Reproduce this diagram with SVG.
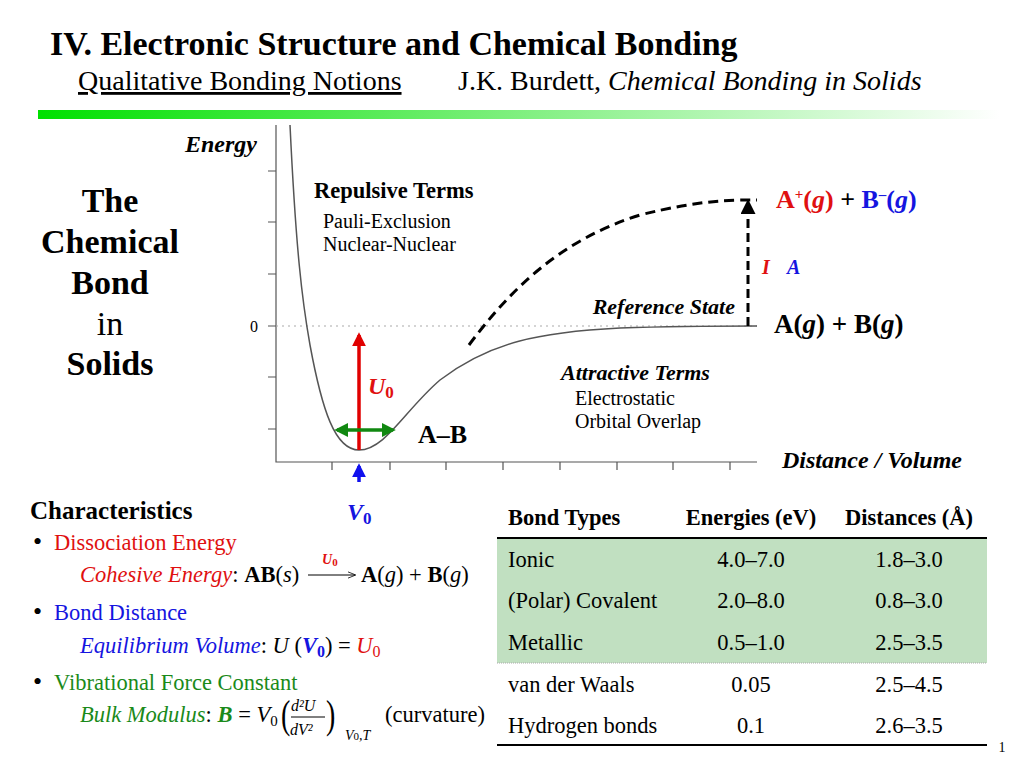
<svg xmlns="http://www.w3.org/2000/svg" width="1024" height="768" viewBox="0 0 1024 768">
<defs>
<linearGradient id="g" x1="0" x2="1"><stop offset="0" stop-color="#00e000"/><stop offset="1" stop-color="#ffffff"/></linearGradient>
<marker id="ar" viewBox="0 0 10 10" refX="8" refY="5" markerWidth="4" markerHeight="4" orient="auto-start-reverse"><path d="M0,0L10,5L0,10z" fill="#e00000"/></marker>
<marker id="ag" viewBox="0 0 10 10" refX="8" refY="5" markerWidth="4" markerHeight="4" orient="auto-start-reverse"><path d="M0,0L10,5L0,10z" fill="#118811"/></marker>
<marker id="ab" viewBox="0 0 10 10" refX="8" refY="5" markerWidth="4" markerHeight="4" orient="auto-start-reverse"><path d="M0,0L10,5L0,10z" fill="#1111ee"/></marker>
<marker id="ak" viewBox="0 0 10 10" refX="8" refY="5" markerWidth="5" markerHeight="5" orient="auto-start-reverse"><path d="M0,0L10,5L0,10z" fill="#000"/></marker>
<marker id="ak2" viewBox="0 0 10 10" refX="9" refY="5" markerWidth="8" markerHeight="8" markerUnits="userSpaceOnUse" orient="auto"><path d="M0,1L10,5L0,9" fill="none" stroke="#000"/></marker>
</defs>
<style>
text{font-family:"Liberation Serif","Times New Roman",serif;fill:#000}
.b{font-weight:bold}.i{font-style:italic}
.r{fill:#e01010}.bl{fill:#1515e0}.gr{fill:#1a8a1a}
.t{font-size:22.5px}
</style>
<rect width="1024" height="768" fill="#fff"/>
<g id="header">
<text x="50" y="55" class="b" font-size="34">IV. Electronic Structure and Chemical Bonding</text>
<text x="78" y="90" font-size="28" text-decoration="underline">Qualitative Bonding Notions</text>
<text x="458" y="90" font-size="28">J.K. Burdett, <tspan class="i">Chemical Bonding in Solids</tspan></text>
<rect x="38" y="110" width="962" height="9" fill="url(#g)"/>
</g>
<g id="title">
<text x="110" y="212" class="b" font-size="34" text-anchor="middle">The</text>
<text x="110" y="253" class="b" font-size="34" text-anchor="middle">Chemical</text>
<text x="110" y="294" class="b" font-size="34" text-anchor="middle">Bond</text>
<text x="110" y="335" font-size="34" text-anchor="middle">in</text>
<text x="110" y="375" class="b" font-size="34" text-anchor="middle">Solids</text>
</g>
<g id="axes" stroke="#555" fill="none" stroke-width="1.2">
<path d="M276,125V462H757"/>
<path d="M268,171H276M268,222H276M268,274H276M268,326H276M268,377H276M268,429H276"/>
<path d="M332,462V470M390,462V470M446,462V470M503,462V470M560,462V470M617,462V470M673,462V470M730,462V470"/>
<path d="M276,326H757" stroke="#aaa" stroke-dasharray="2,4"/>
</g>
<text x="258" y="332" font-size="16" fill="#444" text-anchor="end">0</text>
<text x="257" y="152" class="b i" font-size="24" text-anchor="end">Energy</text>
<text x="962" y="468" class="b i" font-size="24" text-anchor="end">Distance / Volume</text>
<g id="curves" fill="none">
<path d="M290,125C296,250 302,300 310,345C322,410 335,450 359,450C385,450 405,410 440,380C490,342 540,332 620,328C680,326 720,326 757,326" stroke="#555" stroke-width="1.5"/>
<path d="M469,345C510,290 560,240 640,215C700,200 730,200 757,200" stroke="#000" stroke-width="3" stroke-dasharray="10,6"/>
<path d="M748,326V202" stroke="#000" stroke-width="3" stroke-dasharray="9,5" marker-end="url(#ak)"/>
<path d="M359,450V335" stroke="#e00000" stroke-width="3.5" marker-end="url(#ar)"/>
<path d="M337,430H393" stroke="#118811" stroke-width="3.5" marker-start="url(#ag)" marker-end="url(#ag)"/>
<path d="M359,482V466" stroke="#1111ee" stroke-width="3.5" marker-end="url(#ab)"/>
</g>
<g id="labels">
<text x="314" y="198" class="b" font-size="22.5">Repulsive Terms</text>
<text x="323" y="228" font-size="20">Pauli-Exclusion</text>
<text x="323" y="251" font-size="20">Nuclear-Nuclear</text>
<text x="735" y="314" class="b i" font-size="22" text-anchor="end">Reference State</text>
<text x="561" y="380" class="b i" font-size="22">Attractive Terms</text>
<text x="575" y="405" font-size="20">Electrostatic</text>
<text x="575" y="428" font-size="20">Orbital Overlap</text>
<text x="418" y="443" class="b" font-size="26">A–B</text>
<text x="368" y="394" class="b i r" font-size="24">U<tspan font-size="17" dy="4" font-style="normal">0</tspan></text>
<text x="347" y="520" class="b i bl" font-size="24">V<tspan font-size="17" dy="4" font-style="normal">0</tspan></text>
<text x="762" y="274" class="b i r" font-size="20">I</text>
<text x="787" y="274" class="b i bl" font-size="20">A</text>
<text x="776" y="208" class="b" font-size="26"><tspan class="r">A</tspan><tspan class="r" font-size="15" dy="-9">+</tspan><tspan class="r" dy="9">(<tspan class="i">g</tspan>)</tspan> + <tspan class="bl">B</tspan><tspan class="bl" font-size="15" dy="-9">–</tspan><tspan class="bl" dy="9">(<tspan class="i">g</tspan>)</tspan></text>
<text x="774" y="333" class="b" font-size="27">A(<tspan class="i">g</tspan>) + B(<tspan class="i">g</tspan>)</text>
</g>
<g id="characteristics">
<text x="30" y="519" class="b" font-size="25">Characteristics</text>
<text x="33" y="550" font-size="26">•</text>
<text x="54" y="550" class="r" font-size="22.5">Dissociation Energy</text>
<text x="80" y="582" font-size="22.5"><tspan class="i r">Cohesive Energy</tspan>: <tspan class="b">AB</tspan>(<tspan class="i">s</tspan>)</text>
<text x="322" y="564" class="b i r" font-size="14">U<tspan font-size="11" dy="2" font-style="normal">0</tspan></text>
<path d="M308,575H355" stroke="#000" stroke-width="1" marker-end="url(#ak2)"/>
<text x="361" y="582" font-size="22.5"><tspan class="b">A</tspan>(<tspan class="i">g</tspan>) + <tspan class="b">B</tspan>(<tspan class="i">g</tspan>)</text>
<text x="33" y="620" font-size="26">•</text>
<text x="54" y="620" class="bl" font-size="22.5">Bond Distance</text>
<text x="80" y="653" font-size="22.5"><tspan class="i bl">Equilibrium Volume</tspan>: <tspan class="i">U</tspan> (<tspan class="b i bl">V</tspan><tspan class="b bl" font-size="16" dy="4">0</tspan><tspan dy="-4">) = </tspan><tspan class="i r">U</tspan><tspan class="r" font-size="16" dy="4">0</tspan></text>
<text x="33" y="690" font-size="26">•</text>
<text x="54" y="690" class="gr" font-size="22.5">Vibrational Force Constant</text>
<text x="80" y="722" font-size="22.5"><tspan class="i gr">Bulk Modulus</tspan>: <tspan class="b i gr">B</tspan> = <tspan class="i">V</tspan><tspan font-size="15" dy="4">0</tspan></text>
<text x="281" y="728" font-size="40" transform="translate(281,0) scale(0.7,1) translate(-281,0)">(</text>
<text x="291" y="711" class="i" font-size="16">d²U</text>
<path d="M291,717H325" stroke="#000" stroke-width="1"/>
<text x="290" y="735" class="i" font-size="16">dV²</text>
<text x="326" y="728" font-size="40" transform="translate(326,0) scale(0.7,1) translate(-326,0)">)</text>
<text x="345" y="740" class="i" font-size="14">V<tspan font-size="11" font-style="normal">0</tspan>,T</text>
<text x="385" y="722" font-size="22.5">(curvature)</text>
</g>
<g id="table">
<rect x="497" y="539" width="490" height="124" fill="#c1e0c1"/>
<path d="M497,538H987" stroke="#000" stroke-width="2"/>
<path d="M497,663H987" stroke="#aaa" stroke-dasharray="1,1"/>
<path d="M497,745H987" stroke="#000" stroke-width="2"/>
<text x="508" y="525" class="b t">Bond Types</text>
<text x="751" y="525" class="b t" text-anchor="middle">Energies (eV)</text>
<text x="909" y="525" class="b t" text-anchor="middle">Distances (Å)</text>
<text x="508" y="567" class="t">Ionic</text><text x="751" y="567" class="t" text-anchor="middle">4.0–7.0</text><text x="909" y="567" class="t" text-anchor="middle">1.8–3.0</text>
<text x="508" y="608" class="t">(Polar) Covalent</text><text x="751" y="608" class="t" text-anchor="middle">2.0–8.0</text><text x="909" y="608" class="t" text-anchor="middle">0.8–3.0</text>
<text x="508" y="650" class="t">Metallic</text><text x="751" y="650" class="t" text-anchor="middle">0.5–1.0</text><text x="909" y="650" class="t" text-anchor="middle">2.5–3.5</text>
<text x="508" y="692" class="t">van der Waals</text><text x="751" y="692" class="t" text-anchor="middle">0.05</text><text x="909" y="692" class="t" text-anchor="middle">2.5–4.5</text>
<text x="508" y="733" class="t">Hydrogen bonds</text><text x="751" y="733" class="t" text-anchor="middle">0.1</text><text x="909" y="733" class="t" text-anchor="middle">2.6–3.5</text>
<text x="1002" y="752" font-size="14" text-anchor="middle">1</text>
</g>
</svg>
